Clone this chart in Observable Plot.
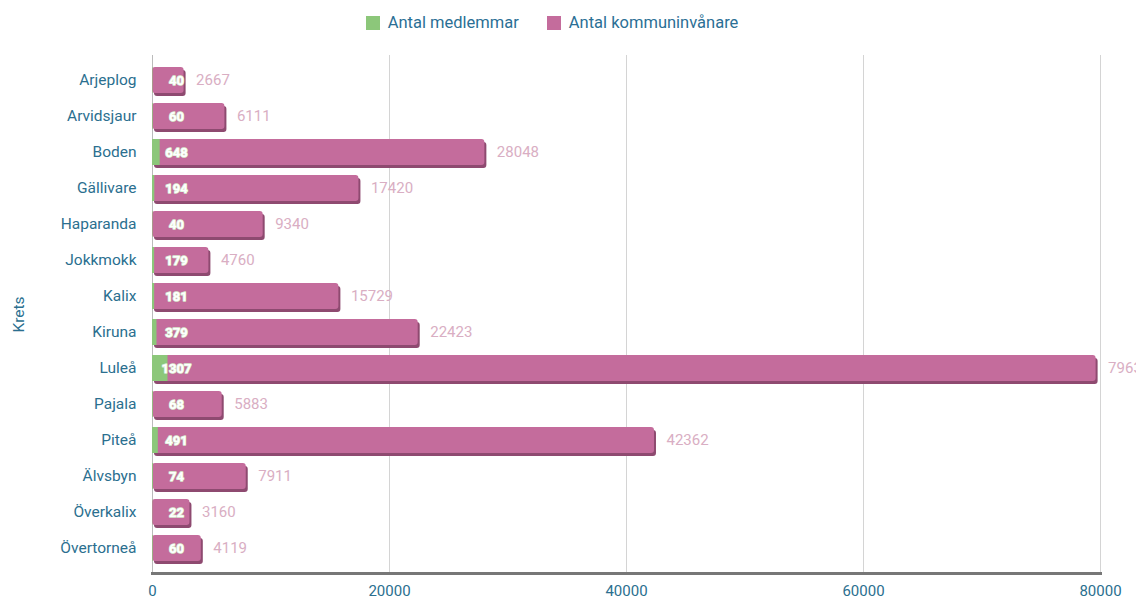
<!DOCTYPE html>
<html>
<head>
<meta charset="utf-8">
<script src="https://cdn.jsdelivr.net/npm/d3@7"></script>
<script src="https://cdn.jsdelivr.net/npm/@observablehq/plot@0.6"></script>
<style>
  body { margin: 0; background: #fff; font-family: Roboto, "Noto Sans", sans-serif; }
  #legend { height: 45px; display: flex; justify-content: center; align-items: center; gap: 28px; padding-right: 32px; box-sizing: border-box; font-size: 16.5px; color: #2b6f95; }
  #legend .item { display: flex; align-items: center; gap: 8px; }
  #legend .sw { width: 14px; height: 14px; display: inline-block; }
</style>
</head>
<body>
<div id="legend"></div>
<div id="chart"></div>
<script>
const kretsar = ["Arjeplog", "Arvidsjaur", "Boden", "Gällivare", "Haparanda", "Jokkmokk", "Kalix", "Kiruna", "Luleå", "Pajala", "Piteå", "Älvsbyn", "Överkalix", "Övertorneå"];
const medlemmar = [40, 60, 648, 194, 40, 179, 181, 379, 1307, 68, 491, 74, 22, 60];
const invanare = [2667, 6111, 28048, 17420, 9340, 4760, 15729, 22423, 79630, 5883, 42362, 7911, 3160, 4119];
const seriesNames = ["Antal medlemmar", "Antal kommuninvånare"];
const seriesColors = ["#8cc77a", "#c46c9c"];
const xTicks = [0, 20000, 40000, 60000, 80000];

const data = kretsar.map((k, i) => ({krets: k, medlemmar: medlemmar[i], invanare: invanare[i]}));

const legend = document.getElementById("legend");
seriesNames.forEach((n, i) => {
  const it = document.createElement("div");
  it.className = "item";
  it.innerHTML = `<span class="sw" style="background:${seriesColors[i]}"></span><span>${n}</span>`;
  legend.appendChild(it);
});

const teal = "#2b6f8f";
const chart = Plot.plot({
  width: 1136,
  height: 554,
  marginLeft: 152,
  marginRight: 36,
  marginTop: 10,
  marginBottom: 26,
  style: {fontFamily: "Roboto, 'Noto Sans', sans-serif", background: "#fff"},
  x: {type: "linear", domain: [0, 80000], ticks: xTicks, tickFormat: d => String(d), label: null},
  y: {domain: kretsar, paddingInner: 0.28, paddingOuter: 0.2, label: "Krets"},
  marks: [
    Plot.gridX(xTicks.slice(1), {stroke: "#d4d4d4", strokeOpacity: 1, strokeWidth: 1}),
    Plot.ruleX([0], {stroke: "#bbbbbb"}),
    // 3D shadow
    Plot.barX(data, {x: "invanare", y: "krets", fill: "#8e4a70", dx: 2, dy: 3, rx: 3}),
    Plot.barX(data, {x: "invanare", y: "krets", fill: seriesColors[1], rx: 3}),
    Plot.barX(data, {x: "medlemmar", y: "krets", fill: seriesColors[0]}),
    Plot.text(data, {x: 0, y: "krets", text: d => String(d.medlemmar), dx: 24, fill: "#ffffff", stroke: "#d9eecf", strokeWidth: 1.5, paintOrder: "stroke", fontSize: 13, fontWeight: "bold"}),
    Plot.text(data, {x: "invanare", y: "krets", text: d => String(d.invanare), dx: 12, textAnchor: "start", fill: "#d9aec3", fontSize: 15}),
    Plot.frame({anchor: "bottom", stroke: "#777", strokeWidth: 3}),
    Plot.axisX({ticks: xTicks, tickFormat: d => String(d), tickSize: 0, tickPadding: 12, fontSize: 15, color: teal, label: null}),
    Plot.axisY({tickSize: 0, tickPadding: 16, fontSize: 15.5, color: teal, label: "Krets", labelAnchor: "center", labelArrow: "none", labelOffset: 140})
  ]
});
document.getElementById("chart").appendChild(chart);
</script>
</body>
</html>
